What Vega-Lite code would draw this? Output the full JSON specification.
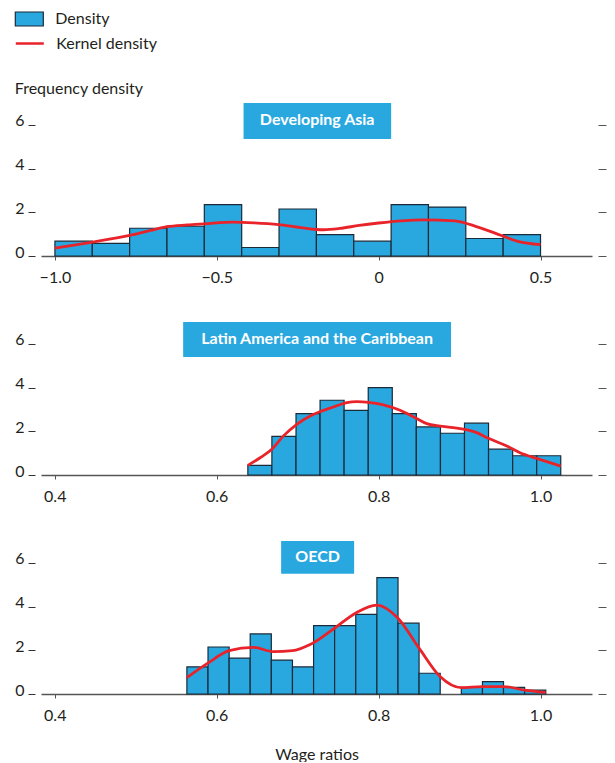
{
  "$schema": "https://vega.github.io/schema/vega-lite/v6.json",
  "padding": {"left": 14, "top": 4, "right": 9, "bottom": 0},
  "autosize": {"type": "pad"},
  "bounds": "flush",
  "spacing": 66,
  "config": {
    "font": "Lato",
    "view": {"stroke": null},
    "axis": {"labelFont": "Lato", "labelFontSize": 16, "labelColor": "#231f20", "titleFont": "Lato", "titleFontSize": 16, "titleFontWeight": "normal", "titleColor": "#231f20", "grid": false},
    "axisX": {"orient": "bottom", "domainColor": "#555555", "domainWidth": 1.3, "tickColor": "#555555", "tickSize": 4, "labelPadding": 9, "titlePadding": 23},
    "legend": {"labelFont": "Lato", "labelFontSize": 16, "labelColor": "#231f20"}
  },
  "datasets": {
    "asia_bins": [
      {"bin_start": -1.0, "bin_end": -0.8846, "density": 0.68},
      {"bin_start": -0.8846, "bin_end": -0.7692, "density": 0.58},
      {"bin_start": -0.7692, "bin_end": -0.6538, "density": 1.27},
      {"bin_start": -0.6538, "bin_end": -0.5385, "density": 1.36},
      {"bin_start": -0.5385, "bin_end": -0.4231, "density": 2.35},
      {"bin_start": -0.4231, "bin_end": -0.3077, "density": 0.39},
      {"bin_start": -0.3077, "bin_end": -0.1923, "density": 2.15},
      {"bin_start": -0.1923, "bin_end": -0.0769, "density": 0.98},
      {"bin_start": -0.0769, "bin_end": 0.0385, "density": 0.68},
      {"bin_start": 0.0385, "bin_end": 0.1538, "density": 2.35},
      {"bin_start": 0.1538, "bin_end": 0.2692, "density": 2.24},
      {"bin_start": 0.2692, "bin_end": 0.3846, "density": 0.80},
      {"bin_start": 0.3846, "bin_end": 0.5, "density": 0.98}
    ],
    "asia_kde": [
      {"x": -1.0, "density": 0.36},
      {"x": -0.883, "density": 0.64},
      {"x": -0.769, "density": 0.94},
      {"x": -0.705, "density": 1.17},
      {"x": -0.654, "density": 1.34},
      {"x": -0.592, "density": 1.42},
      {"x": -0.539, "density": 1.47},
      {"x": -0.448, "density": 1.55},
      {"x": -0.386, "density": 1.52},
      {"x": -0.309, "density": 1.44},
      {"x": -0.24, "density": 1.3},
      {"x": -0.17, "density": 1.2},
      {"x": -0.12, "density": 1.26},
      {"x": -0.06, "density": 1.4},
      {"x": 0.0, "density": 1.51},
      {"x": 0.07, "density": 1.61},
      {"x": 0.14, "density": 1.65},
      {"x": 0.235, "density": 1.61},
      {"x": 0.307, "density": 1.32},
      {"x": 0.379, "density": 0.94},
      {"x": 0.43, "density": 0.67},
      {"x": 0.5, "density": 0.52}
    ],
    "lac_bins": [
      {"bin_start": 0.6385, "bin_end": 0.6682, "density": 0.44},
      {"bin_start": 0.6682, "bin_end": 0.6980, "density": 1.77},
      {"bin_start": 0.6980, "bin_end": 0.7277, "density": 2.81},
      {"bin_start": 0.7277, "bin_end": 0.7574, "density": 3.42},
      {"bin_start": 0.7574, "bin_end": 0.7872, "density": 2.96},
      {"bin_start": 0.7872, "bin_end": 0.8169, "density": 4.0},
      {"bin_start": 0.8169, "bin_end": 0.8466, "density": 2.81},
      {"bin_start": 0.8466, "bin_end": 0.8764, "density": 2.2},
      {"bin_start": 0.8764, "bin_end": 0.9061, "density": 1.91},
      {"bin_start": 0.9061, "bin_end": 0.9358, "density": 2.37},
      {"bin_start": 0.9358, "bin_end": 0.9656, "density": 1.18},
      {"bin_start": 0.9656, "bin_end": 0.9953, "density": 0.88},
      {"bin_start": 0.9953, "bin_end": 1.025, "density": 0.88}
    ],
    "lac_kde": [
      {"x": 0.6385, "density": 0.44},
      {"x": 0.6537, "density": 0.79},
      {"x": 0.6681, "density": 1.18},
      {"x": 0.6825, "density": 1.79},
      {"x": 0.699, "density": 2.32},
      {"x": 0.7154, "density": 2.7},
      {"x": 0.7278, "density": 2.9},
      {"x": 0.7442, "density": 3.11},
      {"x": 0.7607, "density": 3.31},
      {"x": 0.7731, "density": 3.36},
      {"x": 0.7895, "density": 3.31},
      {"x": 0.8059, "density": 3.21},
      {"x": 0.8265, "density": 2.96},
      {"x": 0.8463, "density": 2.6},
      {"x": 0.8595, "density": 2.35},
      {"x": 0.8759, "density": 2.24},
      {"x": 0.8923, "density": 2.17},
      {"x": 0.9212, "density": 1.94},
      {"x": 0.9356, "density": 1.68},
      {"x": 0.9583, "density": 1.33},
      {"x": 0.9747, "density": 1.02},
      {"x": 0.9953, "density": 0.76},
      {"x": 1.025, "density": 0.41}
    ],
    "oecd_bins": [
      {"bin_start": 0.5632, "bin_end": 0.5893, "density": 1.24},
      {"bin_start": 0.5893, "bin_end": 0.6154, "density": 2.15},
      {"bin_start": 0.6154, "bin_end": 0.6414, "density": 1.64},
      {"bin_start": 0.6414, "bin_end": 0.6675, "density": 2.75},
      {"bin_start": 0.6675, "bin_end": 0.6936, "density": 1.55},
      {"bin_start": 0.6936, "bin_end": 0.7197, "density": 1.24},
      {"bin_start": 0.7197, "bin_end": 0.7457, "density": 3.13},
      {"bin_start": 0.7457, "bin_end": 0.7718, "density": 3.13},
      {"bin_start": 0.7718, "bin_end": 0.7979, "density": 3.64},
      {"bin_start": 0.7979, "bin_end": 0.8240, "density": 5.32},
      {"bin_start": 0.8240, "bin_end": 0.8500, "density": 3.24},
      {"bin_start": 0.8500, "bin_end": 0.8761, "density": 0.95},
      {"bin_start": 0.9022, "bin_end": 0.9283, "density": 0.3},
      {"bin_start": 0.9283, "bin_end": 0.9543, "density": 0.57},
      {"bin_start": 0.9543, "bin_end": 0.9804, "density": 0.3},
      {"bin_start": 0.9804, "bin_end": 1.0065, "density": 0.18}
    ],
    "oecd_kde": [
      {"x": 0.5632, "density": 0.75},
      {"x": 0.5891, "density": 1.41},
      {"x": 0.6154, "density": 1.98},
      {"x": 0.6454, "density": 2.13},
      {"x": 0.6701, "density": 1.94},
      {"x": 0.6936, "density": 1.98},
      {"x": 0.7154, "density": 2.26},
      {"x": 0.7459, "density": 3.02},
      {"x": 0.7719, "density": 3.71},
      {"x": 0.7978, "density": 4.07},
      {"x": 0.8237, "density": 3.48},
      {"x": 0.85, "density": 2.1},
      {"x": 0.8759, "density": 0.8},
      {"x": 0.9022, "density": 0.29},
      {"x": 0.9281, "density": 0.34},
      {"x": 0.9541, "density": 0.34},
      {"x": 0.98, "density": 0.18},
      {"x": 1.0064, "density": 0.07}
    ]
  },
  "vconcat": [
    {
      "width": 551, "height": 153,
      "resolve": {"axis": {"y": "independent"}},
      "layer": [
        {
          "data": {"name": "asia_bins"},
          "mark": {"type": "bar", "stroke": "#1b2a38", "strokeWidth": 1.2, "orient": "vertical"},
          "encoding": {
            "x": {"field": "bin_start", "type": "quantitative", "scale": {"domain": [-1.043, 0.659], "nice": false, "zero": false, "padding": 0},
                  "axis": {"values": [-1, -0.5, 0, 0.5], "labelExpr": "datum.value == 0 ? '0' : format(datum.value, '.1f')", "title": null}},
            "x2": {"field": "bin_end"},
            "y": {"field": "density", "type": "quantitative", "scale": {"domain": [0, 7], "nice": false},
                  "axis": {"values": [0, 2, 4, 6], "domain": false, "tickColor": "#333333", "tickSize": 7, "offset": 6, "labelPadding": 4, "labelBaseline": "alphabetic", "labelOffset": 1,
                           "title": "Frequency density", "titleAngle": 0, "titleAlign": "left", "titleBaseline": "alphabetic", "titleX": -20.7, "titleY": -10}},
            "y2": {"datum": 0},
            "fill": {"datum": "Density", "type": "nominal", "scale": {"range": ["#29a8e0"]},
                     "legend": {"orient": "none", "legendX": -26.7, "legendY": -99, "title": null, "symbolType": "M-1,-0.5H1V0.5H-1Z", "symbolSize": 784, "symbolStrokeColor": "#1b2a38", "symbolStrokeWidth": 1.2, "labelOffset": 11, "padding": 0}}
          }
        },
        {
          "data": {"name": "asia_kde"},
          "mark": {"type": "line", "interpolate": "monotone", "strokeWidth": 2.8},
          "encoding": {
            "x": {"field": "x", "type": "quantitative", "axis": {"values": [-1, -0.5, 0, 0.5], "labelExpr": "datum.value == 0 ? '0' : format(datum.value, '.1f')", "title": null}},
            "y": {"field": "density", "type": "quantitative", "axis": {"orient": "right", "values": [0, 2, 4, 6], "labels": false, "domain": false, "tickColor": "#555555", "tickSize": 8, "offset": 6, "title": null}},
            "stroke": {"datum": "Kernel density", "type": "nominal", "scale": {"range": ["#e8232a"]},
                       "legend": {"orient": "none", "legendX": -26.7, "legendY": -75, "title": null, "symbolType": "M-1,0H1", "symbolSize": 784, "symbolStrokeWidth": 2.5, "labelOffset": 11, "padding": 0}}
          }
        },
        {
          "data": {"values": [{"label": "Developing Asia"}]},
          "mark": {"type": "rect", "color": "#29a8e0"},
          "encoding": {
            "x": {"datum": -0.4173, "type": "quantitative", "axis": {"values": [-1, -0.5, 0, 0.5], "labelExpr": "datum.value == 0 ? '0' : format(datum.value, '.1f')", "title": null}},
            "x2": {"datum": 0.0386},
            "y": {"datum": 5.35, "type": "quantitative", "axis": null},
            "y2": {"datum": 7}
          }
        },
        {
          "data": {"values": [{"label": "Developing Asia"}]},
          "mark": {"type": "text", "color": "#ffffff", "font": "Lato", "fontSize": 16, "fontWeight": "bold", "baseline": "middle", "align": "center"},
          "encoding": {
            "x": {"datum": -0.19, "type": "quantitative", "axis": {"values": [-1, -0.5, 0, 0.5], "labelExpr": "datum.value == 0 ? '0' : format(datum.value, '.1f')", "title": null}},
            "y": {"datum": 6.2, "type": "quantitative", "axis": null},
            "text": {"field": "label"}
          }
        }
      ]
    },
    {
      "width": 551, "height": 153,
      "resolve": {"axis": {"y": "independent"}},
      "layer": [
        {
          "data": {"name": "lac_bins"},
          "mark": {"type": "bar", "stroke": "#1b2a38", "strokeWidth": 1.2, "orient": "vertical"},
          "encoding": {
            "x": {"field": "bin_start", "type": "quantitative", "scale": {"domain": [0.383, 1.0636], "nice": false, "zero": false, "padding": 0},
                  "axis": {"values": [0.4, 0.6, 0.8, 1.0], "format": ".1f", "title": null}},
            "x2": {"field": "bin_end"},
            "y": {"field": "density", "type": "quantitative", "scale": {"domain": [0, 7], "nice": false},
                  "axis": {"values": [0, 2, 4, 6], "domain": false, "tickColor": "#333333", "tickSize": 7, "offset": 6, "labelPadding": 4, "labelBaseline": "alphabetic", "labelOffset": 1, "title": null}},
            "y2": {"datum": 0},
            "fill": {"datum": "Density", "type": "nominal"}
          }
        },
        {
          "data": {"name": "lac_kde"},
          "mark": {"type": "line", "interpolate": "monotone", "strokeWidth": 2.8},
          "encoding": {
            "x": {"field": "x", "type": "quantitative", "axis": {"values": [0.4, 0.6, 0.8, 1.0], "format": ".1f", "title": null}},
            "y": {"field": "density", "type": "quantitative", "axis": {"orient": "right", "values": [0, 2, 4, 6], "labels": false, "domain": false, "tickColor": "#555555", "tickSize": 8, "offset": 6, "title": null}},
            "stroke": {"datum": "Kernel density", "type": "nominal"}
          }
        },
        {
          "data": {"values": [{"label": "Latin America and the Caribbean"}]},
          "mark": {"type": "rect", "color": "#29a8e0"},
          "encoding": {
            "x": {"datum": 0.5586, "type": "quantitative", "axis": {"values": [0.4, 0.6, 0.8, 1.0], "format": ".1f", "title": null}},
            "x2": {"datum": 0.8895},
            "y": {"datum": 5.4, "type": "quantitative", "axis": null},
            "y2": {"datum": 7}
          }
        },
        {
          "data": {"values": [{"label": "Latin America and the Caribbean"}]},
          "mark": {"type": "text", "color": "#ffffff", "font": "Lato", "fontSize": 16, "fontWeight": "bold", "baseline": "middle", "align": "center"},
          "encoding": {
            "x": {"datum": 0.724, "type": "quantitative", "axis": {"values": [0.4, 0.6, 0.8, 1.0], "format": ".1f", "title": null}},
            "y": {"datum": 6.2, "type": "quantitative", "axis": null},
            "text": {"field": "label"}
          }
        }
      ]
    },
    {
      "width": 551, "height": 153,
      "resolve": {"axis": {"y": "independent"}},
      "layer": [
        {
          "data": {"name": "oecd_bins"},
          "mark": {"type": "bar", "stroke": "#1b2a38", "strokeWidth": 1.2, "orient": "vertical"},
          "encoding": {
            "x": {"field": "bin_start", "type": "quantitative", "scale": {"domain": [0.383, 1.0636], "nice": false, "zero": false, "padding": 0},
                  "axis": {"values": [0.4, 0.6, 0.8, 1.0], "format": ".1f", "title": "Wage ratios"}},
            "x2": {"field": "bin_end"},
            "y": {"field": "density", "type": "quantitative", "scale": {"domain": [0, 7], "nice": false},
                  "axis": {"values": [0, 2, 4, 6], "domain": false, "tickColor": "#333333", "tickSize": 7, "offset": 6, "labelPadding": 4, "labelBaseline": "alphabetic", "labelOffset": 1, "title": null}},
            "y2": {"datum": 0},
            "fill": {"datum": "Density", "type": "nominal"}
          }
        },
        {
          "data": {"name": "oecd_kde"},
          "mark": {"type": "line", "interpolate": "monotone", "strokeWidth": 2.8},
          "encoding": {
            "x": {"field": "x", "type": "quantitative", "axis": {"values": [0.4, 0.6, 0.8, 1.0], "format": ".1f", "title": "Wage ratios"}},
            "y": {"field": "density", "type": "quantitative", "axis": {"orient": "right", "values": [0, 2, 4, 6], "labels": false, "domain": false, "tickColor": "#555555", "tickSize": 8, "offset": 6, "title": null}},
            "stroke": {"datum": "Kernel density", "type": "nominal"}
          }
        },
        {
          "data": {"values": [{"label": "OECD"}]},
          "mark": {"type": "rect", "color": "#29a8e0"},
          "encoding": {
            "x": {"datum": 0.6796, "type": "quantitative", "axis": {"values": [0.4, 0.6, 0.8, 1.0], "format": ".1f", "title": "Wage ratios"}},
            "x2": {"datum": 0.7698},
            "y": {"datum": 5.5, "type": "quantitative", "axis": null},
            "y2": {"datum": 7}
          }
        },
        {
          "data": {"values": [{"label": "OECD"}]},
          "mark": {"type": "text", "color": "#ffffff", "font": "Lato", "fontSize": 16, "fontWeight": "bold", "baseline": "middle", "align": "center"},
          "encoding": {
            "x": {"datum": 0.7247, "type": "quantitative", "axis": {"values": [0.4, 0.6, 0.8, 1.0], "format": ".1f", "title": "Wage ratios"}},
            "y": {"datum": 6.25, "type": "quantitative", "axis": null},
            "text": {"field": "label"}
          }
        }
      ]
    }
  ]
}
